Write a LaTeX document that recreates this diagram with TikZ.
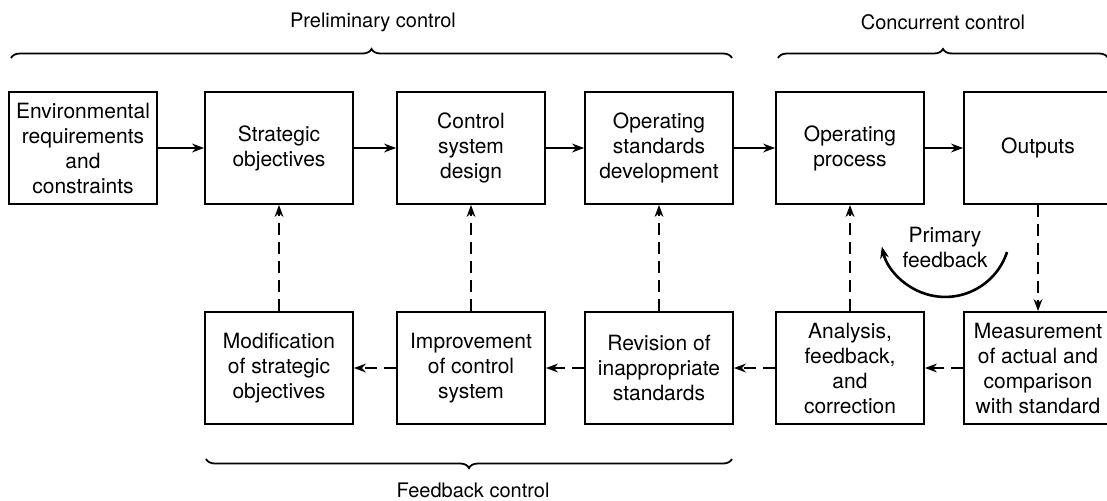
\documentclass[tikz,border=0pt]{standalone}
\usepackage{fontspec}
\setmainfont{TeX Gyre Heros}
\usetikzlibrary{arrows.meta,decorations.pathreplacing}

\begin{document}
\begin{tikzpicture}[x=0.5pt, y=-0.5pt,
    box/.style={draw, line width=0.9pt, minimum width=74pt, minimum height=56pt,
        inner sep=1pt, align=center, font=\fontsize{10.5}{12.5}\selectfont},
    flow/.style={line width=1.2pt, -{Stealth[length=6pt, width=4.4pt]}},
    fback/.style={flow, dash pattern=on 6pt off 3.5pt},
    brc/.style={decorate, decoration={brace, amplitude=4.5pt}, line width=0.9pt},
    lbl/.style={align=center, font=\fontsize{10}{12.5}\selectfont}]
    \useasboundingbox (0,0) rectangle (1107,500);

    % upper row
    \node[box] (env) at (83,148) {Environmental\\requirements\\and\\constraints};
    \node[box] (strat) at (279,148) {Strategic\\objectives};
    \node[box] (design) at (471,148) {Control\\system\\design};
    \node[box] (stddev) at (659,148) {Operating\\standards\\development};
    \node[box] (process) at (850,148) {Operating\\process};
    \node[box] (outputs) at (1038,148) {Outputs};

    % lower row
    \node[box] (modif) at (279,368) {Modification\\of strategic\\objectives};
    \node[box] (improve) at (471,368) {Improvement\\of control\\system};
    \node[box] (revise) at (659,368) {Revision of\\inappropriate\\standards};
    \node[box] (analysis) at (850,368) {Analysis,\\feedback,\\and\\correction};
    \node[box] (measure) at (1038,368) {Measurement\\of actual and\\comparison\\with standard};

    % main flow
    \draw[flow] (env) -- (strat);
    \draw[flow] (strat) -- (design);
    \draw[flow] (design) -- (stddev);
    \draw[flow] (stddev) -- (process);
    \draw[flow] (process) -- (outputs);

    % feedback paths
    \draw[fback] (outputs) -- (measure);
    \draw[fback] (measure) -- (analysis);
    \draw[fback] (analysis) -- (revise);
    \draw[fback] (revise) -- (improve);
    \draw[fback] (improve) -- (modif);
    \draw[fback] (modif) -- (strat);
    \draw[fback] (improve) -- (design);
    \draw[fback] (revise) -- (stddev);
    \draw[fback] (analysis) -- (process);

    % primary feedback loop
    \node[lbl, font=\fontsize{10.5}{12.5}\selectfont] (pflbl) at (945,247) {Primary\\feedback};
    \coordinate (pfa) at (1007,252);
    \draw[flow, line width=1.3pt] (pfa) arc[start angle=-18, end angle=-167, radius=32.5pt];

    % braces and their labels
    \coordinate (pl) at (11,58);
    \coordinate (pr) at (732,58);
    \coordinate (cl) at (778,58);
    \coordinate (cr) at (1108,58);
    \coordinate (fr) at (732,459);
    \coordinate (fl) at (206,459);
    \draw[brc] (pl) -- (pr);
    \draw[brc] (cl) -- (cr);
    \draw[brc] (fr) -- (fl);
    \node[lbl] (prelim) at (373,22) {Preliminary control};
    \node[lbl] (concur) at (943,22) {Concurrent control};
    \node[lbl] (fbctrl) at (473,490) {Feedback control};
\end{tikzpicture}
\end{document}
